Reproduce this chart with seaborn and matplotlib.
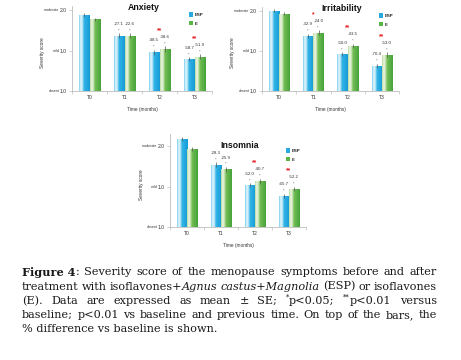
import numpy as np
import pandas as pd
import matplotlib
matplotlib.use("Agg")
import matplotlib.pyplot as plt
import seaborn as sns
from matplotlib.colors import LinearSegmentedColormap
from matplotlib.patches import Patch
from matplotlib.container import BarContainer

# ---------------- data ----------------
times = ["T0", "T1", "T2", "T3"]
groups = ["ESP", "E"]
ytick_vals = [0.0, 1.0, 2.0]
ytick_nums = ["1.0", "1.0", "2.0"]
ytick_words = ["absent", "mild", "moderate"]

anx_esp = [1.88, 1.37, 0.96, 0.78]
anx_e = [1.77, 1.37, 1.04, 0.85]
anx_esp_se = [0.04, 0.06, 0.06, 0.05]
anx_e_se = [0.04, 0.06, 0.07, 0.06]
anx_esp_pct = ["", "-27.1", "-48.5", "-58.7"]
anx_e_pct = ["", "-22.6", "-38.6", "-51.9"]
anx_stars = ["", "", "**", "**"]

irr_esp = [2.00, 1.37, 0.91, 0.63]
irr_e = [1.93, 1.45, 1.12, 0.90]
irr_esp_se = [0.04, 0.06, 0.05, 0.05]
irr_e_se = [0.04, 0.06, 0.06, 0.06]
irr_esp_pct = ["", "-32.9", "-50.0", "-70.4"]
irr_e_pct = ["", "-24.0", "-43.5", "-53.0"]
irr_stars = ["", "*", "**", "**"]

ins_esp = [2.16, 1.53, 1.03, 0.77]
ins_e = [1.92, 1.42, 1.13, 0.94]
ins_esp_se = [0.05, 0.06, 0.05, 0.05]
ins_e_se = [0.04, 0.06, 0.06, 0.06]
ins_esp_pct = ["", "-28.3", "-52.0", "-65.7"]
ins_e_pct = ["", "-25.9", "-40.7", "-52.2"]
ins_stars = ["", "", "**", "**"]

caption_lines = [
    [[("Figure 4", "bold"), (":", "normal")], "Severity", "score", "of", "the", "menopause",
     "symptoms", "before", "and", "after"],
    ["treatment", "with", [("isoflavones+", "normal"), ("Agnus", "italic")],
     [("castus+Magnolia", "italic")], "(ESP)", "or", "isoflavones"],
    ["(E).", "Data", "are", "expressed", "as", "mean", "±", "SE;",
     [("*", "sup"), ("p<0.05;", "normal")],
     [("**", "sup"), ("p<0.01", "normal")], "versus"],
    ["baseline;", "p<0.01", "vs", "baseline", "and", "previous", "time.", "On", "top",
     "of", "the", "bars,", "the"],
    ["% difference vs baseline is shown."],
]

# ---------------- style ----------------
sns.set_theme(style="white")
plt.rcParams["font.family"] = ["Liberation Sans", "DejaVu Sans"]

W, H = 461, 360
fig = plt.figure(figsize=(W / 100, H / 100), dpi=100)

esp_cmap = LinearSegmentedColormap.from_list(
    "esp", [(0, "#78cdef"), (0.16, "#e4f6fd"), (0.3, "#bfe8f8"), (0.46, "#33b4e7"), (1, "#169bd7")])
e_cmap = LinearSegmentedColormap.from_list(
    "e", [(0, "#b5d99a"), (0.16, "#eef6e6"), (0.3, "#cfe7bd"), (0.46, "#72bd55"), (1, "#46a23a")])
palette = {"ESP": "#2aa8e0", "E": "#5ab547"}


def rect(px_left, px_right, px_bottom, px_top):
    return [px_left / W, 1 - px_bottom / H, (px_right - px_left) / W, (px_bottom - px_top) / H]


def panel(px, ylim, title, title_xy, esp, e, esp_se, e_se, esp_pct, e_pct, stars,
          legend_px, ylabel_x, xlabel_y):
    ax = fig.add_axes(rect(*px))
    df = pd.DataFrame({
        "time": times * 2,
        "group": ["ESP"] * 4 + ["E"] * 4,
        "score": list(esp) + list(e),
    })
    sns.barplot(data=df, x="time", y="score", hue="group", hue_order=groups,
                palette=palette, width=0.6, saturation=1, linewidth=0,
                errorbar=None, legend=False, ax=ax)
    ax.set_xlim(-0.5, 3.5)
    ax.set_ylim(0, ylim)
    ses = [esp_se, e_se]
    pcts = [esp_pct, e_pct]
    cmaps = [esp_cmap, e_cmap]
    grad = np.linspace(0, 1, 64).reshape(1, -1)
    bar_conts = [c for c in ax.containers if isinstance(c, BarContainer)]
    for gi, cont in enumerate(bar_conts):
        for ti, bar in enumerate(list(cont.patches)):
            x0, w, h = bar.get_x(), bar.get_width(), bar.get_height()
            im = ax.imshow(grad, extent=[x0, x0 + w, 0, h], aspect="auto",
                           cmap=cmaps[gi], zorder=2, interpolation="bilinear")
            im.set_clip_path(bar)
            xc = x0 + w / 2
            ax.errorbar(xc, h, yerr=ses[gi][ti], fmt="none", ecolor="#555555",
                        elinewidth=0.5, capsize=0, zorder=3)
            if ti > 0:
                ax.text(xc, h + ses[gi][ti] + 0.02, "**", ha="center", va="bottom",
                        fontsize=2.3, color="#777777", zorder=4)
            if pcts[gi][ti]:
                ax.text(xc, h + 0.24, pcts[gi][ti], ha="center", va="bottom",
                        fontsize=3.2, color="#333333", zorder=4)
    for ti, s in enumerate(stars):
        if s:
            top = max(esp[ti], e[ti])
            ax.text(ti, top + 0.45, s, ha="center", va="center", fontsize=4.8,
                    color="#e8262b", fontweight="bold")
    ax.set_xlim(-0.5, 3.5)
    ax.set_ylim(0, ylim)
    ax.text(title_xy[0], title_xy[1], title, transform=ax.transAxes, ha="center",
            va="center", fontsize=6.3, fontweight="bold", color="#111111")
    for sp in ["top", "right"]:
        ax.spines[sp].set_visible(False)
    for sp in ["left", "bottom"]:
        ax.spines[sp].set_color("#b0b0b0")
        ax.spines[sp].set_linewidth(0.5)
    ax.set_yticks(ytick_vals)
    ax.set_yticklabels(ytick_nums)
    ax.set_xticks(range(4))
    ax.set_xticklabels(times)
    ax.set_xticks([-0.5, 0.5, 1.5, 2.5, 3.5], minor=True)
    ax.tick_params(axis="x", which="major", length=0, labelsize=3.6, pad=3,
                   labelcolor="#333333")
    ax.tick_params(axis="x", which="minor", length=2, width=0.4, color="#b0b0b0",
                   direction="out", bottom=True)
    ax.tick_params(axis="y", length=2, width=0.4, color="#b0b0b0", labelsize=3.6,
                   pad=2, labelcolor="#333333", left=True)
    for v, wd in zip(ytick_vals, ytick_words):
        ax.annotate(wd, xy=(0, v), xycoords=("axes fraction", "data"),
                    xytext=(-9, 0), textcoords="offset points", ha="right",
                    va="center", fontsize=2.6, color="#333333")
    ax.set_ylabel("Severity score", fontsize=3.4, color="#333333")
    ax.yaxis.set_label_coords(ylabel_x, 0.45)
    ax.set_xlabel("Time (months)", fontsize=3.4, color="#333333")
    ax.xaxis.set_label_coords(0.5, xlabel_y)
    handles = [Patch(facecolor=palette[g], edgecolor="none") for g in groups]
    lx, ly = legend_px
    leg = ax.legend(handles, groups, loc="upper left",
                    bbox_to_anchor=(lx / W, 1 - ly / H), bbox_transform=fig.transFigure,
                    frameon=False, fontsize=3.2, handlelength=0.9, handleheight=1.2,
                    handletextpad=0.5, labelspacing=0.9, borderpad=0, borderaxespad=0)
    for t in leg.get_texts():
        t.set_fontweight("bold")
    return ax


panel((72, 212, 91, 6), 2.1, "Anxiety", (0.51, 0.98), anx_esp, anx_e, anx_esp_se, anx_e_se,
      anx_esp_pct, anx_e_pct, anx_stars, (189, 12), -0.19, -0.19)
panel((262, 399, 91, 6.7), 2.1, "Irritability", (0.58, 0.98), irr_esp, irr_e, irr_esp_se,
      irr_e_se, irr_esp_pct, irr_e_pct, irr_stars, (379, 13), -0.2, -0.19)
panel((170, 306, 227.3, 133.5), 2.3, "Insomnia", (0.515, 0.87), ins_esp, ins_e, ins_esp_se,
      ins_e_se, ins_esp_pct, ins_e_pct, ins_stars, (286, 148), -0.19, -0.165)

# ---------------- caption (justified) ----------------
fig.canvas.draw()
renderer = fig.canvas.get_renderer()
cap_size = 8.1
cap_font = dict(family=["DejaVu Serif"], size=cap_size, color="#1a1a1a")
x_left, x_right = 22, 437
line_y = [272, 286.5, 301, 315, 329.5]


def segs_of(word):
    if isinstance(word, str):
        return [(word, "normal")]
    return word


def seg_kw(style):
    kw = dict(cap_font)
    if style == "bold":
        kw["weight"] = "bold"
    elif style == "italic":
        kw["style"] = "italic"
    elif style == "sup":
        kw["size"] = cap_size * 0.6
    return kw


def measure(txt, style):
    t = fig.text(0, 0, txt, **seg_kw(style))
    bb = t.get_window_extent(renderer)
    t.remove()
    return bb.width


for li, words in enumerate(caption_lines):
    widths = []
    for wd in words:
        widths.append([measure(s, st) for s, st in segs_of(wd)])
    total = sum(sum(w) for w in widths)
    last = li == len(caption_lines) - 1
    if last or len(words) == 1:
        gap = 0
    else:
        gap = (x_right - x_left - total) / (len(words) - 1)
    x = x_left
    for wd, ws in zip(words, widths):
        for (s, st), sw in zip(segs_of(wd), ws):
            yy = line_y[li] - (3.5 if st == "sup" else 0)
            fig.text(x / W, 1 - yy / H, s, ha="left", va="center", **seg_kw(st))
            x += sw
        x += gap

fig.savefig("out.png", dpi=100)
